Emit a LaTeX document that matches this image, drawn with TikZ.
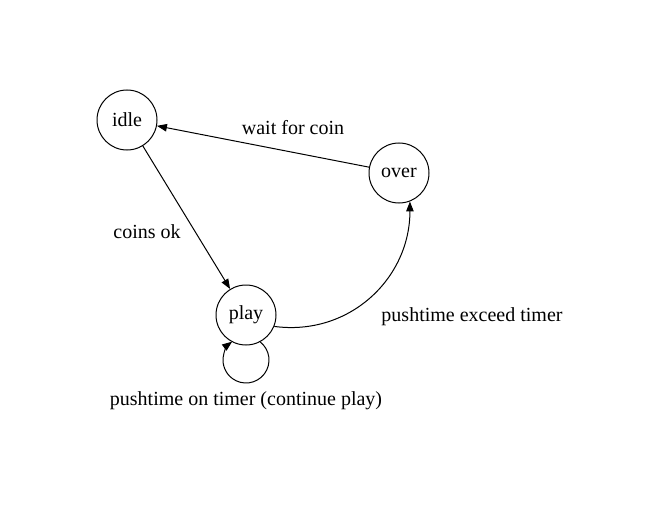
\documentclass[tikz,border=0pt]{standalone}
\usepackage{fontspec}
\IfFontExistsTF{LiberationSerif-Regular.ttf}{%
  \newfontfamily\tnr{LiberationSerif-Regular.ttf}}{%
  \newfontfamily\tnr{Liberation Serif}}
\usetikzlibrary{arrows.meta}
\begin{document}
\begin{tikzpicture}[x=1pt,y=1pt,
  state/.style={circle,draw,line width=1pt,minimum size=60pt,inner sep=0pt,font=\tnr\fontsize{20}{24}\selectfont},
  lbl/.style={font=\tnr\fontsize{20}{24}\selectfont,inner sep=0pt},
  edge/.style={draw,line width=1pt,-{Triangle[length=10pt,width=7.5pt]}}]
\useasboundingbox (0,0) rectangle (654,-527);
\node[state] (idle) at (127,-120) {idle};
\node[state] (over) at (399,-173) {over};
\node[state] (play) at (246,-315) {play};
\coordinate (loopc) at (246,-360);
\path[edge] (over) -- (idle);
\path[edge] (idle) -- (play);
\path[edge] (play.-22) .. controls +(75,-10) and +(0,-77) .. (over.-69);
\path[edge] ([shift={(53:23)}]loopc) arc[start angle=53,end angle=-233,radius=23];
\node[lbl] (l1) at (293,-128) {wait for coin};
\node[lbl] (l2) at (147,-232) {coins ok};
\node[lbl] (l3) at (472,-317) {pushtime exceed timer};
\node[lbl] (l4) at (246,-401) {pushtime on timer (continue play)};
\end{tikzpicture}
\end{document}
